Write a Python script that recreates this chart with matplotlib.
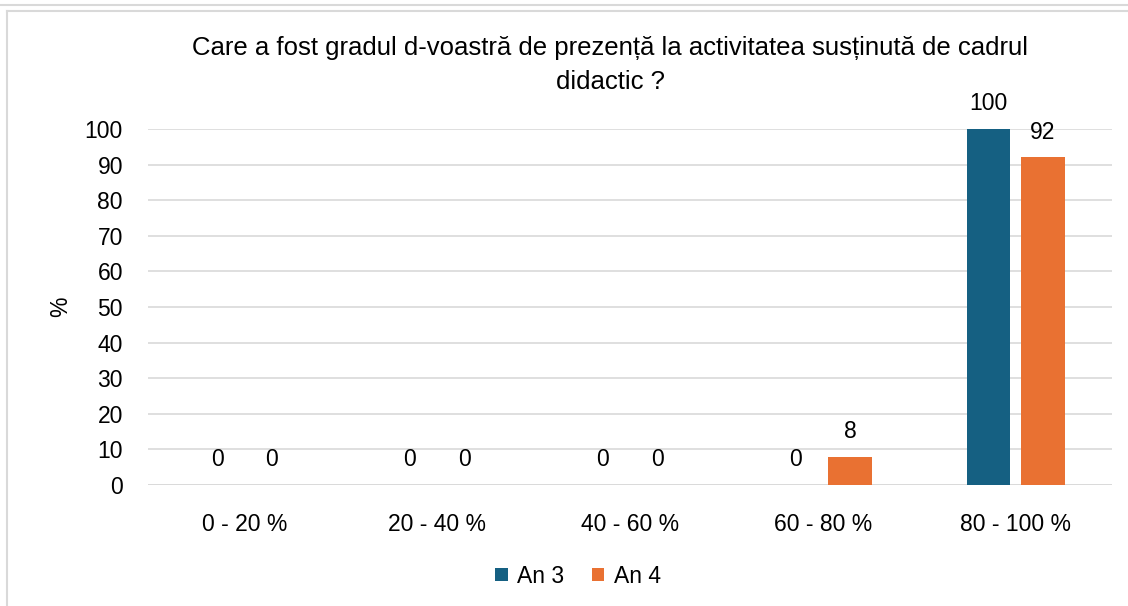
import matplotlib.pyplot as plt
import numpy as np
from matplotlib.lines import Line2D

plt.rcParams['font.family'] = ['Liberation Sans', 'DejaVu Sans']

# Data
categories = ['0 - 20 %', '20 - 40 %', '40 - 60 %', '60 - 80 %', '80 - 100 %']
an3 = [0, 0, 0, 0, 100]
an4 = [0, 0, 0, 8, 92]
series_names = ['An 3', 'An 4']
title = 'Care a fost gradul d-voastră de prezență la activitatea susținută de cadrul\ndidactic ?'

blue = '#156082'
orange = '#E97132'
fs = 16.5

fig = plt.figure(figsize=(11.28, 6.06), dpi=100)
ax = fig.add_axes([0.1312, 0.1997, 0.8546, 0.5874])

x = np.arange(len(categories))
w = 0.225
off = 0.142
b1 = ax.bar(x - off, an3, w, color=blue, label=series_names[0], zorder=3)
b2 = ax.bar(x + off, an4, w, color=orange, label=series_names[1], zorder=3)

for bars in (b1, b2):
    for rect in bars:
        h = rect.get_height()
        ax.text(rect.get_x() + rect.get_width() / 2, h + 3.8, f'{h:g}',
                ha='center', va='bottom', fontsize=fs, color='#000000')

ax.set_xlim(-0.5, len(categories) - 0.5)
ax.set_ylim(0, 100)
ax.set_yticks(range(0, 101, 10))
ax.yaxis.grid(True, color='#D9D9D9', linewidth=1.2, zorder=0)
ax.set_axisbelow(True)
for s in ax.spines.values():
    s.set_visible(False)
ax.axhline(0, color='#D9D9D9', linewidth=1.2, zorder=1)
ax.tick_params(axis='both', length=0, labelsize=fs, colors='#000000')
ax.tick_params(axis='y', pad=18)
ax.tick_params(axis='x', pad=20)
ax.set_xticks(x)
ax.set_xticklabels(categories)
ax.set_ylabel('%', fontsize=fs, labelpad=9)

fig.text(0.541, 0.893, title, ha='center', va='center', fontsize=18.5,
         linespacing=1.5)

ax.legend(loc='center', bbox_to_anchor=(0.446, -0.256), ncol=2, frameon=False,
          fontsize=fs, handlelength=0.55, handleheight=0.55, handletextpad=0.4,
          columnspacing=1.2)

# outer frame lines
fig.add_artist(Line2D([0, 1], [1 - 4.5 / 606, 1 - 4.5 / 606], color='#D9D9D9', lw=1.5))
fig.add_artist(Line2D([7 / 1128, 1], [1 - 10.5 / 606, 1 - 10.5 / 606], color='#D9D9D9', lw=1.5))
fig.add_artist(Line2D([7 / 1128, 7 / 1128], [0, 1 - 10.5 / 606], color='#D9D9D9', lw=1.5))

fig.savefig('out.png', dpi=100)
